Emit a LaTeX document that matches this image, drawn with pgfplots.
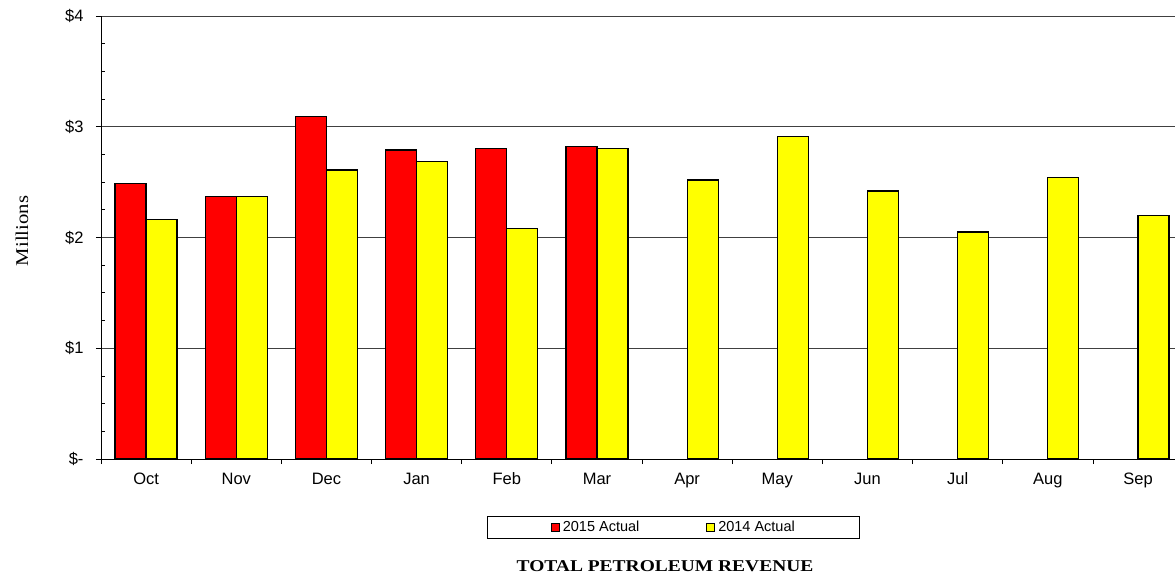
\documentclass[border=0pt]{standalone}
\usepackage{pgfplots}
\pgfplotsset{compat=1.18}
\usepackage{fontspec}
\setmainfont{Liberation Sans}
\newfontfamily\seriffont{Liberation Serif}
\definecolor{barred}{RGB}{255,0,0}
\definecolor{baryellow}{RGB}{255,255,0}
\begin{document}
\begin{tikzpicture}[x=1pt,y=1pt]
\useasboundingbox (-101,-117) rectangle (1074,459);
\begin{axis}[
  at={(0,0)}, anchor=south west,
  scale only axis, width=1074pt, height=443pt,
  xmin=-0.5, xmax=11.41, ymin=0, ymax=4,
  axis x line*=bottom, axis y line*=left,
  axis line style={black, line width=0.9pt},
  ybar=0pt, bar width=31pt,
  ytick={0,1,2,3,4}, yticklabels={\$-,\$1,\$2,\$3,\$4},
  minor y tick num=3,
  ymajorgrids, major grid style={black!75, line width=0.9pt},
  tick align=outside, major tick length=5pt, minor tick length=-4pt,
  tick style={black, line width=0.8pt},
  xtick={-0.5,0.5,...,10.5}, xticklabels={},
  extra x ticks={0,1,...,11},
  extra x tick labels={Oct,Nov,Dec,Jan,Feb,Mar,Apr,May,Jun,Jul,Aug,Sep},
  extra x tick style={tick style={draw=none}, grid=none},
  ticklabel style={font=\fontsize{16.5}{19}\selectfont},
  yticklabel style={xshift=-9pt},
  xticklabel style={anchor=base, yshift=-20pt},
  legend columns=2,
  legend style={at={(axis description cs:0.533,-0.1535)}, anchor=center,
    draw=black, line width=0.9pt, font=\fontsize{14.5}{17}\selectfont,
    inner xsep=64pt, inner ysep=4pt,
    nodes={inner sep=1pt},
    /tikz/every even column/.append style={column sep=66pt},
    /tikz/every odd column/.append style={column sep=2pt}},
]
\addplot[fill=barred, draw=black, line width=1.2pt,
  legend image code/.code={\draw[fill=barred,draw=black,line width=0.8pt] (0pt,-4pt) rectangle (8pt,4pt);}]
  coordinates {(0,2.49) (1,2.37) (2,3.09) (3,2.79) (4,2.80) (5,2.82)};
\addlegendentry{2015 Actual}
\addplot[fill=baryellow, draw=black, line width=1.2pt,
  legend image code/.code={\draw[fill=baryellow,draw=black,line width=0.8pt] (0pt,-4pt) rectangle (8pt,4pt);}]
  coordinates {(0,2.16) (1,2.37) (2,2.61) (3,2.685) (4,2.08) (5,2.80)
               (6,2.52) (7,2.91) (8,2.42) (9,2.05) (10,2.54) (11,2.20)};
\addlegendentry{2014 Actual}
\end{axis}
\node[font=\seriffont\bfseries\fontsize{16.5}{19}\selectfont] at (564,-107)
  {\scalebox{1.18}[1]{TOTAL PETROLEUM REVENUE}};
\node[rotate=90, font=\seriffont\fontsize{18}{21}\selectfont] at (-79,228)
  {\scalebox{1.15}[1]{Millions}};
\end{tikzpicture}
\end{document}
